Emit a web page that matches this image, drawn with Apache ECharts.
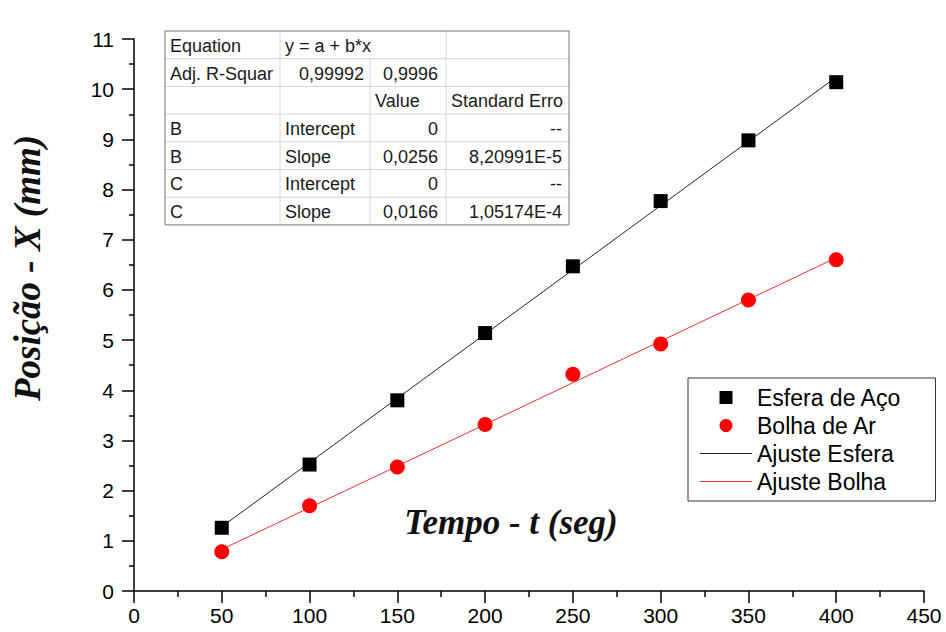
<!DOCTYPE html>
<html>
<head>
<meta charset="utf-8">
<script src="https://cdn.jsdelivr.net/npm/echarts@6/dist/echarts.min.js"></script>
<style>
  html, body { margin: 0; padding: 0; background: #fff; }
  #chart { width: 946px; height: 632px; }
</style>
</head>
<body>
<div id="chart"></div>
<script>
// tempo (s)
const tempo = [50, 100, 150, 200, 250, 300, 350, 400];
// posição medida (mm)
const esferaAco = [1.26, 2.52, 3.80, 5.14, 6.47, 7.77, 8.98, 10.14];
const bolhaAr = [0.78, 1.70, 2.47, 3.32, 4.32, 4.92, 5.80, 6.60];
const ajusteT = [50, 400];
const ajusteEsfera = [1.28, 10.24];
const ajusteBolha = [0.83, 6.64];

const xTicks = [0, 50, 100, 150, 200, 250, 300, 350, 400, 450];
const yTicks = [0, 1, 2, 3, 4, 5, 6, 7, 8, 9, 10, 11];

// tabela de ajuste (Origin)
const tabela = [
  ['Equation', 'y = a + b*x', '', ''],
  ['Adj. R-Squar', '0,99992', '0,9996', ''],
  ['', '', 'Value', 'Standard Erro'],
  ['B', 'Intercept', '0', '--'],
  ['B', 'Slope', '0,0256', '8,20991E-5'],
  ['C', 'Intercept', '0', '--'],
  ['C', 'Slope', '0,0166', '1,05174E-4']
];
const alinhamento = [
  ['left', 'left', 'left', 'left'],
  ['left', 'right', 'right', 'left'],
  ['left', 'left', 'left', 'left'],
  ['left', 'left', 'right', 'right'],
  ['left', 'left', 'right', 'right'],
  ['left', 'left', 'right', 'right'],
  ['left', 'left', 'right', 'right']
];

const pares = (xs, ys) => xs.map((x, i) => [x, ys[i]]);

// monta a tabela como elementos graphic
function montaTabela() {
  const cols = [165, 280, 370, 446, 569];
  const padDir = [6, 6, 8, 7];
  const top = 31;
  const rowH = 27.7;
  const bottom = top + tabela.length * rowH;
  const els = [];
  for (let r = 1; r < tabela.length; r++) {
    els.push({
      type: 'line', silent: true,
      shape: { x1: cols[0], y1: top + r * rowH, x2: cols[4], y2: top + r * rowH },
      style: { stroke: '#d4d4d4', lineWidth: 1 }
    });
  }
  for (let c = 1; c < cols.length - 1; c++) {
    // a equação ocupa duas colunas na primeira linha
    const y1 = c === 2 ? top + rowH : top;
    els.push({
      type: 'line', silent: true,
      shape: { x1: cols[c], y1: y1, x2: cols[c], y2: bottom },
      style: { stroke: '#d4d4d4', lineWidth: 1 }
    });
  }
  els.push({
    type: 'rect', silent: true,
    shape: { x: cols[0], y: top, width: cols[4] - cols[0], height: bottom - top },
    style: { fill: 'none', stroke: '#777', lineWidth: 1 }
  });
  tabela.forEach((row, r) => {
    row.forEach((txt, c) => {
      if (!txt) return;
      const al = alinhamento[r][c];
      els.push({
        type: 'text', silent: true,
        x: al === 'left' ? cols[c] + 5 : cols[c + 1] - padDir[c],
        y: top + r * rowH + rowH / 2 + 1,
        style: {
          text: txt, align: al, verticalAlign: 'middle',
          font: '18px Arial', fill: '#1a1a1a'
        }
      });
    });
  });
  return els;
}

const chart = echarts.init(document.getElementById('chart'), null, { renderer: 'svg' });

chart.setOption({
  backgroundColor: '#fff',
  animation: false,
  grid: { left: 134, right: 22, top: 39, bottom: 41 },
  xAxis: {
    type: 'value',
    min: 0, max: 450, interval: 50,
    name: 'Tempo - t (seg)',
    nameLocation: 'middle',
    nameGap: -86,
    nameTextStyle: {
      fontFamily: 'Liberation Serif', fontStyle: 'italic', fontWeight: 'bold',
      fontSize: 35, color: '#111', padding: [0, 36, 0, 0]
    },
    axisLine: { lineStyle: { color: '#000', width: 1.5 } },
    axisTick: { length: 12, lineStyle: { color: '#000', width: 1.5 } },
    minorTick: { show: true, splitNumber: 2, length: 6, lineStyle: { color: '#000', width: 1.5 } },
    axisLabel: {
      margin: 14, fontFamily: 'Arial', fontSize: 21, color: '#000',
      formatter: v => xTicks.includes(v) ? String(v) : ''
    },
    splitLine: { show: false }
  },
  yAxis: {
    type: 'value',
    min: 0, max: 11, interval: 1,
    name: 'Posição - X (mm)',
    nameLocation: 'middle',
    nameGap: 88,
    nameRotate: 90,
    nameTextStyle: {
      fontFamily: 'Liberation Serif', fontStyle: 'italic', fontWeight: 'bold',
      fontSize: 37, color: '#111', padding: [0, 0, 0, 94]
    },
    axisLine: { show: true, lineStyle: { color: '#000', width: 1.5 } },
    axisTick: { show: true, length: 12, lineStyle: { color: '#000', width: 1.5 } },
    minorTick: { show: true, splitNumber: 2, length: 5, lineStyle: { color: '#000', width: 1.5 } },
    axisLabel: {
      margin: 20, fontFamily: 'Arial', fontSize: 21, color: '#000',
      formatter: v => yTicks.includes(v) ? String(v) : ''
    },
    splitLine: { show: false }
  },
  legend: {
    orient: 'vertical',
    left: 688, top: 378,
    padding: [8, 34, 8, 12],
    itemWidth: 52, itemHeight: 13, itemGap: 5,
    borderColor: '#333', borderWidth: 1,
    textStyle: { fontFamily: 'Arial', fontSize: 23, color: '#000' },
    data: [
      { name: 'Esfera de Aço', icon: 'path://M0 0H10V10H0Z' },
      { name: 'Bolha de Ar', icon: 'circle' },
      { name: 'Ajuste Esfera', icon: 'path://M0 0H52V1H0Z' },
      { name: 'Ajuste Bolha', icon: 'path://M0 0H52V1H0Z' }
    ]
  },
  graphic: montaTabela(),
  series: [
    {
      name: 'Ajuste Esfera', type: 'line', data: pares(ajusteT, ajusteEsfera),
      symbol: 'none', lineStyle: { color: '#222', width: 1 }, itemStyle: { color: '#222' }, z: 1
    },
    {
      name: 'Ajuste Bolha', type: 'line', data: pares(ajusteT, ajusteBolha),
      symbol: 'none', lineStyle: { color: '#f03030', width: 1 }, itemStyle: { color: '#f03030' }, z: 1
    },
    {
      name: 'Esfera de Aço', type: 'scatter', data: pares(tempo, esferaAco),
      symbol: 'rect', symbolSize: 14, itemStyle: { color: '#000', opacity: 1 }, z: 3
    },
    {
      name: 'Bolha de Ar', type: 'scatter', data: pares(tempo, bolhaAr),
      symbol: 'circle', symbolSize: 15, itemStyle: { color: '#ff0000', opacity: 1 }, z: 3
    }
  ]
});
</script>
</body>
</html>
